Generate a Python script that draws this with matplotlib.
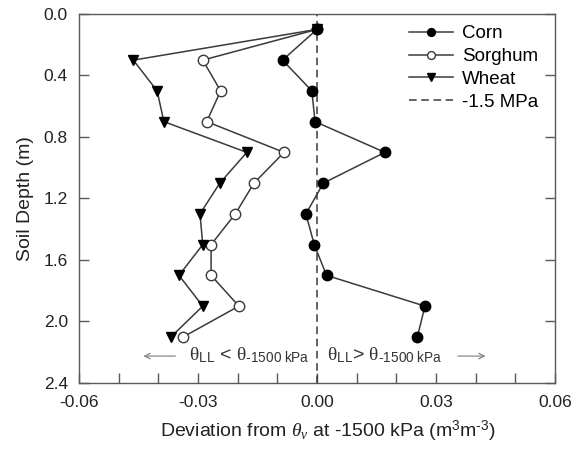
import matplotlib

matplotlib.use("Agg")
import matplotlib.pyplot as plt
from matplotlib.ticker import MultipleLocator, FormatStrFormatter

plt.rcParams["font.family"] = ["Liberation Sans", "DejaVu Sans"]
plt.rcParams["mathtext.fontset"] = "custom"
plt.rcParams["mathtext.rm"] = "Liberation Sans"
plt.rcParams["mathtext.it"] = "Liberation Serif:italic"
plt.rcParams["mathtext.sf"] = "Liberation Serif"

# ---- data ----
depth = [0.1, 0.3, 0.5, 0.7, 0.9, 1.1, 1.3, 1.5, 1.7, 1.9, 2.1]
corn = [0.0, -0.0087, -0.0013, -0.0005, 0.0171, 0.0016, -0.0028, -0.0007, 0.0024, 0.0272, 0.0253]
sorghum = [0.0, -0.0288, -0.0243, -0.0278, -0.0083, -0.0159, -0.0206, -0.0267, -0.0267, -0.0197, -0.0337]
wheat = [0.0, -0.0463, -0.0403, -0.0386, -0.0177, -0.0245, -0.0295, -0.0288, -0.0348, -0.0288, -0.0368]

LINE = "#3a3a3a"
AXC = "#5a5a5a"

fig = plt.figure(figsize=(5.74, 4.62), dpi=100, facecolor="white")
ax = fig.add_axes([0.1376, 0.171, 0.8294, 0.7987])

ax.plot(corn, depth, color=LINE, lw=1.1, marker="o", ms=7.5,
        mfc="black", mec="black", label="Corn", zorder=4)
ax.plot(sorghum, depth, color=LINE, lw=1.1, marker="o", ms=7.5,
        mfc="white", mec=LINE, mew=1.0, label="Sorghum", zorder=3)
ax.plot(wheat, depth, color=LINE, lw=1.1, marker="v", ms=7.5,
        mfc="black", mec="black", label="Wheat", zorder=3)
ax.axvline(0, color=LINE, lw=1.1, ls=(0, (5, 3)), label="-1.5 MPa", zorder=2)

ax.set_xlim(-0.06, 0.06)
ax.set_ylim(2.4, 0.0)
ax.xaxis.set_major_locator(MultipleLocator(0.03))
ax.xaxis.set_minor_locator(MultipleLocator(0.01))
ax.xaxis.set_major_formatter(FormatStrFormatter("%.2f"))
ax.yaxis.set_major_locator(MultipleLocator(0.4))
ax.yaxis.set_major_formatter(FormatStrFormatter("%.1f"))

ax.tick_params(axis="both", which="both", direction="in", color=AXC,
               labelsize=12.5, labelcolor="#222222", width=1.0)
ax.tick_params(axis="both", which="major", length=7)
ax.tick_params(axis="x", which="major", pad=9)
ax.tick_params(axis="y", which="major", pad=8)
ax.tick_params(axis="x", which="minor", length=7)
ax.tick_params(axis="y", right=True)
for s in ax.spines.values():
    s.set_color(AXC)
    s.set_linewidth(1.0)

ax.set_ylabel("Soil Depth (m)", fontsize=14, color="#222222", labelpad=7)
ax.set_xlabel("Deviation from $\\theta_v$ at -1500 kPa (m$^3$m$^{\u20103}$)",
              fontsize=14, color="#222222")
ax.xaxis.set_label_coords(0.522, -0.098)

# region annotations
ax.text(-0.0018, 2.22,
        "$\\mathsf{\\theta}_{\\rm LL}$ < $\\mathsf{\\theta}_{\\mathrm{\u20101500\\ kPa}}$",
        ha="right", va="center", fontsize=14, color="#333333")
ax.text(0.0024, 2.22,
        "$\\mathsf{\\theta}_{\\rm LL}$> $\\mathsf{\\theta}_{\\mathrm{\u20101500\\ kPa}}$",
        ha="left", va="center", fontsize=14, color="#333333")
ax.annotate("", xy=(-0.0445, 2.225), xytext=(-0.0350, 2.225),
            arrowprops=dict(arrowstyle="->", color="#888888", lw=0.9))
ax.annotate("", xy=(0.0432, 2.225), xytext=(0.0348, 2.225),
            arrowprops=dict(arrowstyle="->", color="#888888", lw=0.9))

leg = ax.legend(loc="upper right", bbox_to_anchor=(1.0, 1.015), frameon=False,
                fontsize=13.5, markerscale=0.75, handlelength=2.3,
                handletextpad=0.5, labelspacing=0.3)

fig.savefig("out.png", dpi=100, facecolor="white")
